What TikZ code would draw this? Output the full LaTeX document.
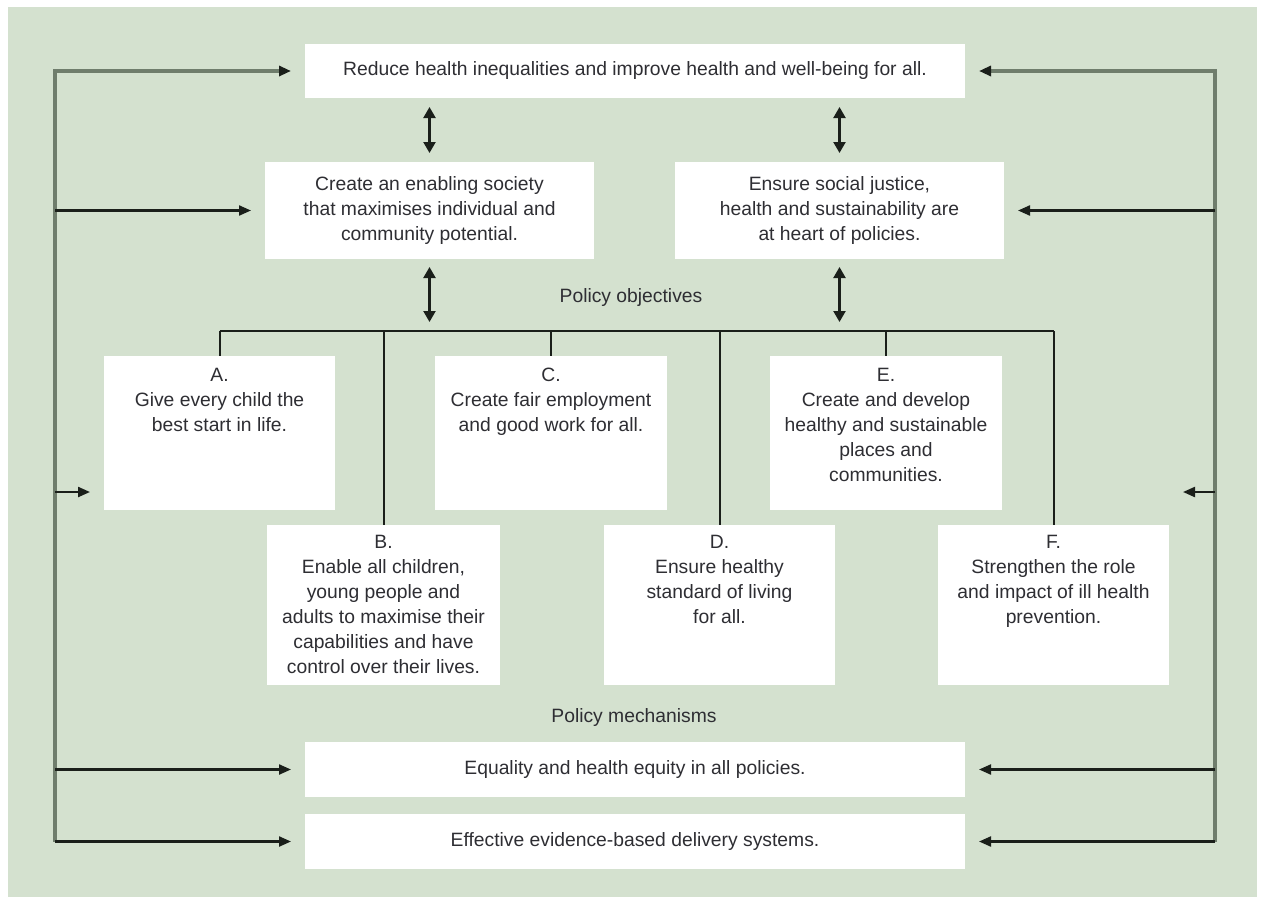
\documentclass[tikz,border=0pt]{standalone}
\usepackage{fontspec}
\setmainfont{Liberation Sans}
\usetikzlibrary{arrows.meta,calc}
\definecolor{panel}{HTML}{D4E1CF}
\definecolor{railc}{HTML}{6F7D6C}
\definecolor{ink}{HTML}{1A1F1A}
\definecolor{txtc}{HTML}{2E2E33}
\begin{document}
\begin{tikzpicture}[x=1pt,y=-1pt,
  box/.style={fill=white, draw=none, inner sep=0pt, outer sep=0pt},
  lbl/.style={text=txtc, font=\fontsize{19.3}{25}\selectfont, align=center, inner sep=0pt},
  tip/.style={-{Triangle[length=12pt,width=10pt,color=ink]}},
  rail/.style={draw=railc, line width=3.2pt, tip, shorten >=14pt},
  feed/.style={draw=ink, line width=2.2pt, tip, shorten >=14pt},
  dbl/.style={draw=ink, line width=2.2pt, {Triangle[length=11pt,width=12pt]}-{Triangle[length=11pt,width=12pt]}},
  stub/.style={draw=ink, line width=2pt}]
\useasboundingbox (0,0) rectangle (1263,900);
\fill[white] (0,0) rectangle (1263,900);
\fill[panel] (8,7) rectangle (1257,897);

% main boxes
\node[box, lbl, minimum width=660pt, minimum height=54pt] (top) at (635,71)
  {Reduce health inequalities and improve health and well-being for all.};
\node[box, lbl, minimum width=329pt, minimum height=97pt] (soc) at (429.5,210.5)
  {Create an enabling society\\that maximises individual and\\community potential.};
\node[box, lbl, minimum width=329pt, minimum height=97pt] (just) at (839.5,210.5)
  {Ensure social justice,\\health and sustainability are\\at heart of policies.};

% objective boxes
\node[box, minimum width=231pt, minimum height=154pt] (A) at (219.5,433) {};
\node[box, minimum width=232pt, minimum height=154pt] (C) at (551,433) {};
\node[box, minimum width=232pt, minimum height=154pt] (E) at (886,433) {};
\node[box, minimum width=233pt, minimum height=160pt] (B) at (383.5,605) {};
\node[box, minimum width=231pt, minimum height=160pt] (D) at (719.5,605) {};
\node[box, minimum width=231pt, minimum height=160pt] (F) at (1053.5,605) {};

\node[lbl, anchor=north] (At) at ($(A.north)+(0,12)$) {A.\\Give every child the\\best start in life.};
\node[lbl, anchor=north] (Ct) at ($(C.north)+(0,12)$) {C.\\Create fair employment\\and good work for all.};
\node[lbl, anchor=north] (Et) at ($(E.north)+(0,12)$) {E.\\Create and develop\\healthy and sustainable\\places and\\communities.};
\node[lbl, anchor=north] (Bt) at ($(B.north)+(0,10)$) {B.\\Enable all children,\\young people and\\adults to maximise their\\capabilities and have\\control over their lives.};
\node[lbl, anchor=north] (Dt) at ($(D.north)+(0,10)$) {D.\\Ensure healthy\\standard of living\\for all.};
\node[lbl, anchor=north] (Ft) at ($(F.north)+(0,10)$) {F.\\Strengthen the role\\and impact of ill health\\prevention.};

% mechanism boxes
\node[box, lbl, minimum width=660pt, minimum height=55pt] (eq) at (635,769.5)
  {Equality and health equity in all policies.};
\node[box, lbl, minimum width=660pt, minimum height=55pt] (ev) at (635,841.5)
  {Effective evidence-based delivery systems.};

% section labels
\node[lbl] (pobj) at (631,298) {Policy objectives};
\node[lbl] (pmech) at (634,717) {Policy mechanisms};

% objective branch bar
\coordinate (bar) at (0,331);
\draw[stub] (A.north |- bar) -- (F.north |- bar);
\foreach \n in {A,B,C,D,E,F} \draw[stub] (\n.north |- bar) -- (\n.north);

% double arrows
\draw[dbl, shorten <=9pt, shorten >=9pt] (top.south -| soc.north) -- (soc.north);
\draw[dbl, shorten <=9pt, shorten >=9pt] (top.south -| just.north) -- (just.north);
\draw[dbl, shorten <=8pt, shorten >=9pt] (soc.south) -- (soc.south |- bar);
\draw[dbl, shorten <=8pt, shorten >=9pt] (just.south) -- (just.south |- bar);

% side rails
\coordinate (Lx) at (55,0);
\coordinate (Rx) at (1215,0);
\coordinate (ain) at ($(A.south west)+(0,-18)$);
\coordinate (fin) at (F.east |- ain);
\draw[rail] (ev.west -| Lx) -- (top.west -| Lx) -- (top.west);
\draw[rail] (ev.east -| Rx) -- (top.east -| Rx) -- (top.east);
\draw[feed] (soc.west -| Lx) -- (soc.west);
\draw[feed] (ain -| Lx) -- (ain);
\draw[feed] (eq.west -| Lx) -- (eq.west);
\draw[feed] (ev.west -| Lx) -- (ev.west);
\draw[feed] (just.east -| Rx) -- (just.east);
\draw[feed] (fin -| Rx) -- (fin);
\draw[feed] (eq.east -| Rx) -- (eq.east);
\draw[feed] (ev.east -| Rx) -- (ev.east);
\end{tikzpicture}
\end{document}
